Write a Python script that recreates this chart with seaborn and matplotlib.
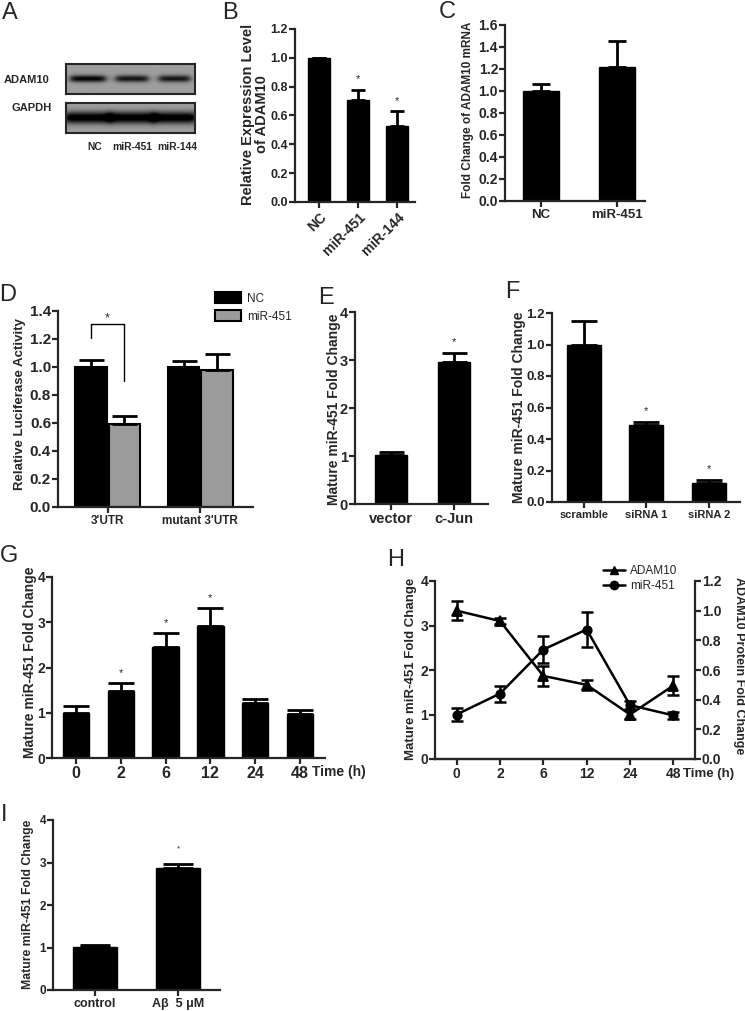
import numpy as np
import pandas as pd
import seaborn as sns
import matplotlib.pyplot as plt
from matplotlib.patches import Patch
from matplotlib.lines import Line2D

# ---- data ----
blot_lanes = ['NC', 'miR-451', 'miR-144']

b_groups = ['NC', 'miR-451', 'miR-144']
b_values = [1.0, 0.71, 0.53]
b_errors = [0.0, 0.07, 0.10]
b_sig = [False, True, True]

c_groups = ['NC', 'miR-451']
c_values = [1.0, 1.22]
c_errors = [0.06, 0.23]

d_constructs = ["3'UTR", "mutant 3'UTR"]
d_nc_values = [1.0, 1.0]
d_nc_errors = [0.05, 0.045]
d_mir_values = [0.59, 0.98]
d_mir_errors = [0.06, 0.11]

e_groups = ['vector', 'c-Jun']
e_values = [1.02, 2.95]
e_errors = [0.06, 0.19]
e_sig = [False, True]

f_groups = ['scramble', 'siRNA 1', 'siRNA 2']
f_values = [1.0, 0.49, 0.12]
f_errors = [0.15, 0.02, 0.02]
f_sig = [False, True, True]

time_points = ['0', '2', '6', '12', '24', '48']
mir451_values = [1.0, 1.47, 2.46, 2.91, 1.21, 0.98]
mir451_errors = [0.15, 0.18, 0.31, 0.40, 0.09, 0.07]
g_sig = [False, True, True, True, False, False]

adam10_values = [1.0, 0.93, 0.56, 0.50, 0.30, 0.495]
adam10_errors = [0.065, 0.02, 0.07, 0.035, 0.03, 0.065]

i_groups = ['control', 'A\u03b2  5 \u03bcM']
i_values = [1.02, 2.88]
i_errors = [0.05, 0.08]
i_sig = [False, True]

# ---- style ----
sns.set_style('ticks')
plt.rcParams['font.family'] = ['Liberation Sans', 'DejaVu Sans']
plt.rcParams['font.weight'] = 'bold'
plt.rcParams['axes.linewidth'] = 1.6

W, H = 745, 1011
fig = plt.figure(figsize=(W / 100, H / 100), dpi=100)


def px_axes(left, top, right, bottom):
    return fig.add_axes([left / W, 1 - bottom / H, (right - left) / W, (bottom - top) / H])


def ftext(x, y, s, **kw):
    fig.text(x / W, 1 - y / H, s, **kw)


def letter(x, y, s):
    ftext(x, y, s, fontsize=17, fontweight='normal', ha='center', va='center')


def ylab(x, y, s, size, rot=90):
    ftext(x, y, s, fontsize=size, rotation=rot, ha='center', va='center',
          multialignment='center', linespacing=1.05)


def style_axes(ax, xlim, ylim, yticks, fmt, ysize, xsize):
    sns.despine(ax=ax)
    ax.set_xlim(*xlim)
    ax.set_ylim(*ylim)
    ax.set_yticks(yticks)
    ax.set_yticklabels([fmt.format(t) for t in yticks])
    ax.tick_params(axis='y', labelsize=ysize, width=1.6, length=4, pad=1)
    ax.tick_params(axis='x', labelsize=xsize, width=1.6, length=4, pad=2)
    plt.setp(ax.get_xticklabels() + ax.get_yticklabels(), fontweight='bold')
    ax.set_xlabel('')
    ax.set_ylabel('')


def add_errors(ax, xs, tops, errs, cap):
    ax.errorbar(list(xs), tops, yerr=[np.zeros(len(errs)), errs], fmt='none',
                ecolor='black', elinewidth=2, capsize=cap, capthick=2, zorder=3)


def add_stars(ax, xs, tops, errs, flags, pad, size=9):
    for x, t, e, f in zip(xs, tops, errs, flags):
        if f:
            ax.text(x, t + e + pad, '*', ha='center', va='center',
                    fontsize=size, fontweight='normal')


def bar_panel(box, groups, values, errors, width, xlim, ylim, yticks, fmt, ysize, xsize, cap):
    ax = px_axes(*box)
    sns.barplot(x=groups, y=values, color='black', saturation=1, width=width,
                edgecolor='black', linewidth=1, errorbar=None, ax=ax)
    add_errors(ax, range(len(values)), values, errors, cap)
    style_axes(ax, xlim, ylim, yticks, fmt, ysize, xsize)
    return ax


def draw_blot(box, centers, strengths, widths, thickness, base):
    ax = px_axes(*box)
    h, w = 90, 390
    xs = np.arange(w)
    ys = np.arange(h)
    img = np.full((h, w), base)
    for c, s, bw in zip(centers, strengths, widths):
        cx, half = c * w, bw * w / 2
        prof_x = 1 / (1 + np.exp(-(xs - (cx - half)) / 6)) / (1 + np.exp((xs - (cx + half)) / 6))
        prof_y = np.exp(-((ys - h / 2) / thickness) ** 2)
        img = img - s * np.outer(prof_y, prof_x)
    ax.imshow(np.clip(img, 0, 1), cmap='gray', vmin=0, vmax=1, aspect='auto',
              interpolation='bilinear')
    ax.set_xticks([])
    ax.set_yticks([])
    for sp in ax.spines.values():
        sp.set_visible(True)
        sp.set_linewidth(1.5)
    return ax


# ---- A: western blot ----
letter(10, 13, 'A')
lane_pos = [0.17, 0.51, 0.84]
draw_blot((66, 64, 195, 94), lane_pos, [0.62, 0.55, 0.55], [0.27, 0.25, 0.24], 10, 0.62)
draw_blot((66, 103, 195, 133), lane_pos, [0.7, 0.7, 0.7], [0.36, 0.36, 0.34], 17, 0.62)
ftext(27, 80, 'ADAM10', fontsize=8, ha='center', va='center')
ftext(32, 108, 'GAPDH', fontsize=8, ha='center', va='center')
for name, xp in zip(blot_lanes, [95, 132, 177]):
    ftext(xp, 147, name, fontsize=7.4, ha='center', va='center')

# ---- B ----
letter(230, 13, 'B')
ax = bar_panel((295, 29, 415, 202), b_groups, b_values, b_errors, 0.56, (-0.62, 2.46),
               (0, 1.2), np.arange(0, 1.21, 0.2), '{:.1f}', 9, 10, 4.8)
add_stars(ax, range(3), b_values, b_errors, b_sig, 0.07, 8)
for lbl in ax.get_xticklabels():
    lbl.set_rotation(45)
    lbl.set_ha('right')
    lbl.set_rotation_mode('anchor')
ylab(255, 114, 'Relative Expression Level\nof ADAM10', 10.5)

# ---- C ----
letter(447, 12, 'C')
ax = bar_panel((505, 25, 645, 201), c_groups, c_values, c_errors, 0.47, (-0.47, 1.37),
               (0, 1.6), np.arange(0, 1.61, 0.2), '{:.1f}', 10, 9.5, 6.5)
ylab(468, 110, 'Fold Change of ADAM10 mRNA', 8.5)

# ---- D ----
letter(8, 295, 'D')
ax = px_axes(58, 311, 253, 507)
d_df = pd.DataFrame({
    'construct': d_constructs * 2,
    'group': ['NC'] * 2 + ['miR-451'] * 2,
    'value': d_nc_values + d_mir_values,
})
sns.barplot(data=d_df, x='construct', y='value', hue='group', palette=['black', '#9b9b9b'],
            saturation=1, width=0.72, gap=0.06, edgecolor='black', linewidth=1.5,
            errorbar=None, legend=False, ax=ax)
centers = []
for cont, errs in zip(ax.containers, [d_nc_errors, d_mir_errors]):
    xs = [p.get_x() + p.get_width() / 2 for p in cont]
    tops = [p.get_height() for p in cont]
    centers.append(xs)
    add_errors(ax, xs, tops, errs, 9)
style_axes(ax, (-0.535, 1.57), (0, 1.4), np.arange(0, 1.41, 0.2), '{:.1f}', 11, 8.5)
x0, x1 = centers[0][0], centers[1][0]
ax.plot([x0, x0, x1, x1], [1.21, 1.31, 1.31, 0.9], color='black', lw=1)
ax.text((x0 + x1) / 2, 1.35, '*', ha='center', va='center', fontsize=9, fontweight='normal')
ax.legend(handles=[Patch(facecolor='black', edgecolor='black', lw=1.5),
                   Patch(facecolor='#9b9b9b', edgecolor='black', lw=1.5)],
          labels=['NC', 'miR-451'], loc='upper left', bbox_to_anchor=(215 / W, 1 - 292 / H),
          bbox_transform=fig.transFigure, frameon=False, borderpad=0, borderaxespad=0,
          handlelength=2.2, handleheight=1.1, handletextpad=0.5, labelspacing=0.45,
          prop={'size': 8.5, 'weight': 'normal'})
ylab(20, 404, 'Relative Luciferase Activity', 9.5)

# ---- E ----
letter(326, 298, 'E')
ax = bar_panel((355, 312, 488, 504), e_groups, e_values, e_errors, 0.52, (-0.57, 1.54),
               (0, 4), range(0, 5), '{:d}', 10.5, 10.5, 9)
add_stars(ax, range(2), e_values, e_errors, e_sig, 0.24, 8)
ylab(334, 409, 'Mature miR-451 Fold Change', 10)

# ---- F ----
letter(512, 292, 'F')
ax = bar_panel((552, 313, 740, 502), f_groups, f_values, f_errors, 0.54, (-0.51, 2.5),
               (0, 1.2), np.arange(0, 1.21, 0.2), '{:.1f}', 9.5, 8, 9.5)
add_stars(ax, range(3), f_values, f_errors, f_sig, 0.07, 8)
ylab(519, 407, 'Mature miR-451 Fold Change', 10)

# ---- G ----
letter(9, 556, 'G')
ax = bar_panel((52, 577, 325, 758), time_points, mir451_values, mir451_errors, 0.59,
               (-0.54, 5.56), (0, 4), range(0, 5), '{:d}', 10, 11.5, 9.5)
add_stars(ax, range(6), mir451_values, mir451_errors, g_sig, 0.22, 8)
ftext(339, 772, 'Time (h)', fontsize=10, ha='center', va='center')
ylab(30, 662, 'Mature miR-451 Fold Change', 10)

# ---- H ----
letter(396, 560, 'H')
ax = px_axes(435, 581, 695, 759)
sns.pointplot(x=time_points, y=mir451_values, color='black', markers='o', linestyles='-',
              errorbar=None, markersize=6, linewidth=1.8, ax=ax)
ax.errorbar(range(6), mir451_values, yerr=mir451_errors, fmt='none', ecolor='black',
            elinewidth=1.8, capsize=4.5, capthick=1.8)
style_axes(ax, (-0.5, 5.5), (0, 4), range(0, 5), '{:d}', 10, 10)
ax2 = ax.twinx()
sns.pointplot(x=time_points, y=adam10_values, color='black', markers='^', linestyles='-',
              errorbar=None, markersize=6.5, linewidth=1.8, ax=ax2)
ax2.errorbar(range(6), adam10_values, yerr=adam10_errors, fmt='none', ecolor='black',
             elinewidth=1.8, capsize=4.5, capthick=1.8)
ax2.set_xlim(-0.5, 5.5)
ax2.set_ylim(0, 1.2)
r_ticks = np.arange(0, 1.21, 0.2)
ax2.set_yticks(r_ticks)
ax2.set_yticklabels(['{:.1f}'.format(t) for t in r_ticks], fontweight='bold')
ax2.set_ylabel('')
ax2.spines['top'].set_visible(False)
ax2.spines['left'].set_visible(False)
ax2.spines['right'].set_linewidth(1.6)
ax2.tick_params(axis='y', labelsize=10, width=1.6, length=4, pad=1)
ax2.legend(handles=[Line2D([0], [0], color='black', marker='^', lw=1.8, markersize=6),
                    Line2D([0], [0], color='black', marker='o', lw=1.8, markersize=6)],
           labels=['ADAM10', 'miR-451'], loc='upper left', bbox_to_anchor=(603 / W, 1 - 565 / H),
           bbox_transform=fig.transFigure, frameon=False, borderpad=0, borderaxespad=0,
           handlelength=1.9, handletextpad=0.4, labelspacing=0.25,
           prop={'size': 8.5, 'weight': 'normal'})
ftext(709, 774, 'Time (h)', fontsize=9.5, ha='center', va='center')
ylab(411, 669, 'Mature miR-451 Fold Change', 9.5)
ylab(739, 666, 'ADAM10 Protein Fold Change', 9, rot=-90)

# ---- I ----
letter(4, 815, 'I')
ax = bar_panel((53, 820, 220, 990), i_groups, i_values, i_errors, 0.53, (-0.5, 1.5),
               (0, 4), range(0, 5), '{:d}', 8.5, 9, 11)
add_stars(ax, range(2), i_values, i_errors, i_sig, 0.36, 6)
ylab(28, 904, 'Mature miR-451 Fold Change', 8.8)

fig.savefig('out.png', dpi=100)
